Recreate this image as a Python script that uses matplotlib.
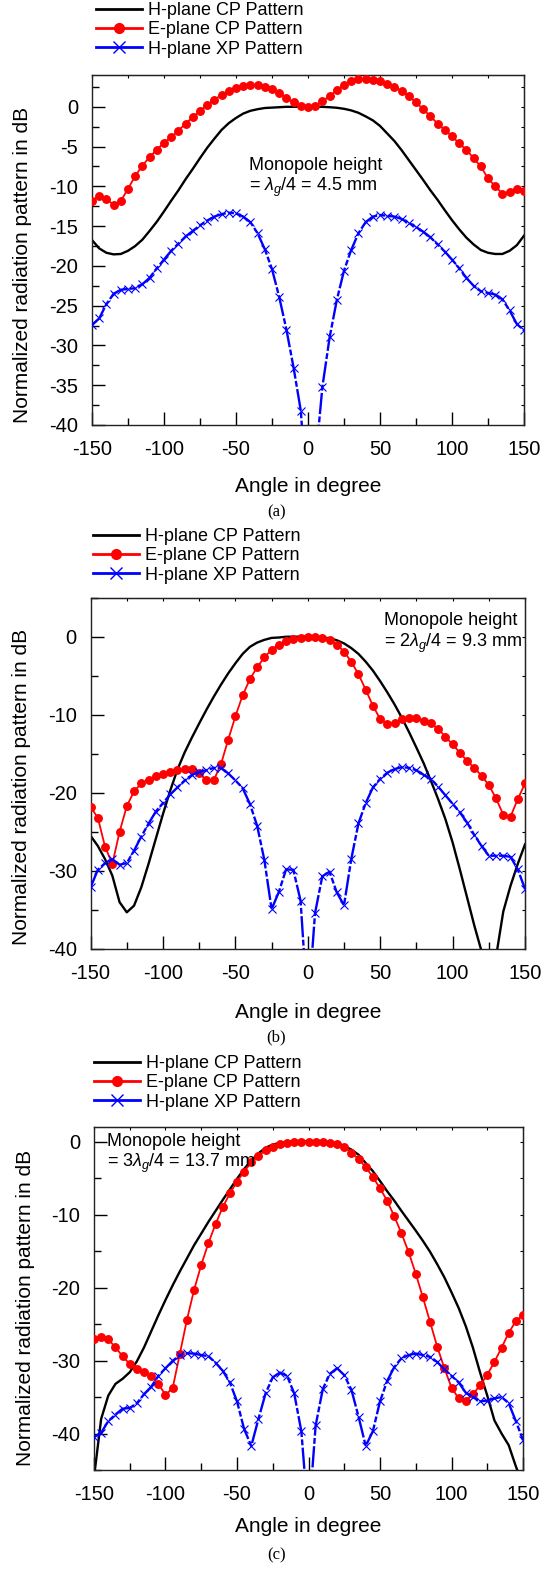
"""Normalized radiation patterns for three monopole heights (a), (b), (c)."""

import matplotlib

matplotlib.use("Agg")
import matplotlib.pyplot as plt
import numpy as np
from matplotlib.lines import Line2D
from matplotlib.ticker import MultipleLocator

plt.rcParams["font.family"] = ["Liberation Sans", "DejaVu Sans"]
plt.rcParams["mathtext.fontset"] = "custom"
plt.rcParams["mathtext.rm"] = "Liberation Sans"
plt.rcParams["mathtext.it"] = "Liberation Sans:italic"
plt.rcParams["axes.unicode_minus"] = False

ANGLES = np.arange(-150, 151, 5)

# ---- panel (a): lambda_g/4 ----
A_H_CP = [-16.75, -17.8, -18.35, -18.55, -18.5, -18.1, -17.5, -16.7, -15.6, -14.45,
          -13.15, -11.8, -10.5, -9.1, -7.8, -6.45, -5.15, -4.0, -2.9, -2.05,
          -1.4, -0.85, -0.5, -0.3, -0.15, -0.1, -0.05, 0.0, 0.0, 0.0,
          0.0, 0.0, 0.0, -0.05, -0.12, -0.25, -0.45, -0.75, -1.2, -1.7,
          -2.4, -3.35, -4.3, -5.45, -6.7, -7.95, -9.2, -10.5, -11.7, -13.0,
          -14.25, -15.4, -16.45, -17.3, -18.0, -18.35, -18.5, -18.5, -18.1, -17.4,
          -16.2]
A_E_CP = [-11.85, -11.2, -11.6, -12.3, -11.85, -10.3, -8.7, -7.4, -6.3, -5.4,
          -4.5, -3.8, -3.0, -2.1, -1.3, -0.5, 0.25, 0.9, 1.5, 2.0,
          2.4, 2.6, 2.76, 2.76, 2.5, 2.2, 1.7, 1.1, 0.55, 0.1,
          0.0, 0.15, 0.7, 1.35, 2.1, 2.76, 3.2, 3.5, 3.5, 3.4,
          3.2, 2.9, 2.5, 2.0, 1.35, 0.55, -0.3, -1.2, -2.1, -2.9,
          -3.7, -4.6, -5.4, -6.45, -7.5, -9.0, -10.0, -10.9, -10.7, -10.3,
          -10.55]
A_H_XP = [-27.4, -26.6, -24.8, -23.5, -23.0, -22.9, -22.8, -22.3, -21.5, -20.3,
          -19.2, -18.1, -17.2, -16.3, -15.6, -14.9, -14.3, -13.8, -13.5, -13.3,
          -13.4, -13.8, -14.5, -15.9, -17.9, -20.4, -23.9, -28.0, -32.8, -38.2,
          -51.0, -45.0, -35.2, -29.0, -24.3, -20.6, -18.0, -15.9, -14.5, -13.8,
          -13.6, -13.7, -13.8, -14.1, -14.6, -15.1, -15.7, -16.4, -17.3, -18.2,
          -19.2, -20.3, -21.5, -22.5, -23.2, -23.4, -23.6, -24.2, -25.6, -27.3,
          -28.1]

# ---- panel (b): 2 lambda_g/4 ----
B_H_CP = [-25.5, -26.8, -28.5, -30.6, -34.0, -35.3, -34.45, -32.1, -29.1, -25.9,
          -22.7, -19.7, -17.0, -14.8, -12.9, -11.1, -9.35, -7.7, -6.15, -4.7,
          -3.4, -2.2, -1.3, -0.75, -0.4, -0.15, -0.1, 0.0, 0.0, 0.0,
          0.0, 0.0, -0.1, -0.2, -0.45, -0.85, -1.45, -2.2, -3.2, -4.35,
          -5.7, -7.15, -8.7, -10.4, -12.25, -14.2, -16.2, -18.45, -20.8, -23.35,
          -26.35, -29.8, -33.4, -37.0, -40.3, -46.0, -41.0, -35.2, -31.9, -29.1,
          -26.6]
B_E_CP = [-21.8, -23.2, -26.9, -29.1, -25.0, -21.7, -19.8, -18.8, -18.3, -17.9,
          -17.6, -17.3, -17.1, -16.95, -17.0, -17.5, -18.4, -18.4, -16.35, -13.2,
          -10.2, -7.5, -5.45, -3.9, -2.65, -1.65, -1.0, -0.55, -0.25, -0.1,
          0.0, 0.0, -0.1, -0.45, -1.0, -1.9, -3.2, -4.8, -6.8, -8.85,
          -10.55, -11.2, -11.0, -10.55, -10.4, -10.45, -10.75, -11.1, -11.8, -12.8,
          -13.8, -14.85, -15.9, -16.8, -17.8, -19.0, -20.7, -22.8, -23.05, -20.8,
          -18.8]
B_H_XP = [-32.1, -29.85, -29.0, -28.5, -29.2, -29.0, -27.4, -25.6, -23.95, -22.4,
          -21.3, -20.2, -19.3, -18.4, -17.7, -17.3, -17.1, -16.8, -16.8, -17.5,
          -18.4, -19.4, -21.4, -24.2, -28.6, -34.9, -32.7, -29.8, -29.85, -33.8,
          -48.0, -35.4, -30.7, -30.1, -32.75, -34.4, -28.5, -23.9, -21.3, -19.3,
          -18.2, -17.4, -16.95, -16.7, -16.8, -17.1, -17.7, -18.2, -19.2, -20.3,
          -21.4, -22.5, -23.8, -25.4, -26.8, -28.05, -28.05, -28.05, -28.2, -29.8,
          -32.3]

# ---- panel (c): 3 lambda_g/4 ----
C_H_CP = [-46.0, -38.0, -34.8, -33.2, -32.5, -31.6, -30.1, -28.2, -26.0, -23.8,
          -21.7, -19.7, -17.8, -16.0, -14.2, -12.6, -11.0, -9.5, -8.0, -6.55,
          -5.1, -3.75, -2.6, -1.6, -0.85, -0.4, -0.2, -0.05, 0.0, 0.0,
          0.0, 0.0, 0.0, -0.1, -0.25, -0.6, -1.1, -1.8, -2.95, -4.05,
          -5.4, -6.8, -8.1, -9.5, -10.85, -12.2, -13.6, -15.1, -16.8, -18.6,
          -20.65, -22.8, -25.3, -28.25, -31.65, -34.8, -38.2, -40.0, -41.6, -44.5,
          -47.0]
C_E_CP = [-27.1, -26.8, -27.1, -28.2, -29.4, -30.5, -31.1, -31.6, -32.1, -33.2,
          -34.7, -33.8, -29.1, -24.4, -20.3, -16.9, -13.9, -11.3, -9.0, -7.1,
          -5.5, -4.1, -2.85, -1.95, -1.2, -0.7, -0.35, -0.2, -0.1, -0.05,
          0.0, 0.0, -0.05, -0.15, -0.3, -0.75, -1.5, -2.4, -3.5, -4.85,
          -6.4, -8.1, -10.25, -12.55, -15.15, -18.1, -21.35, -24.7, -28.1, -31.05,
          -33.7, -35.2, -35.5, -34.6, -33.4, -31.95, -30.2, -28.25, -26.2, -24.6,
          -23.7]
C_H_XP = [-40.5, -39.9, -38.3, -37.4, -36.6, -36.5, -35.85, -34.6, -33.6, -32.1,
          -31.05, -30.05, -29.25, -29.0, -29.05, -29.25, -29.4, -30.3, -31.4, -33.0,
          -35.6, -39.4, -41.7, -38.0, -34.5, -32.3, -31.65, -32.1, -34.5, -39.7,
          -52.0, -38.9, -33.9, -31.8, -31.05, -32.0, -34.0, -37.7, -41.7, -39.7,
          -35.6, -32.8, -30.9, -29.7, -29.25, -29.05, -29.25, -29.5, -30.2, -31.2,
          -32.1, -33.0, -34.4, -35.0, -35.6, -35.5, -35.2, -35.0, -35.85, -38.3,
          -40.9]

LEGEND_LABELS = ["H-plane CP Pattern", "E-plane CP Pattern", "H-plane XP Pattern"]

FIG_W, FIG_H = 551, 1572
XP_DASH = (0, (9, 1.0, 2.5, 1.0))


def px(x, y):
    """Pixel (from top-left) to figure fraction."""
    return x / FIG_W, 1 - y / FIG_H


def draw_panel(fig, box, h_cp, e_cp, h_xp, ylim, ymajor, yminor, right_step,
               legend_top, note_xy, note_lines, ylabel_xy, xlabel_y, tag, tag_y):
    left, top, right, bottom = box
    x0, y0 = px(left, bottom)
    ax = fig.add_axes([x0, y0, (right - left) / FIG_W, (bottom - top) / FIG_H])

    ax.plot(ANGLES, h_cp, color="black", lw=1.7, zorder=2)
    ax.plot(ANGLES, e_cp, color="red", lw=1.3, marker="o", ms=5.4, zorder=3)
    ax.plot(ANGLES, h_xp, color="blue", lw=1.7, linestyle=XP_DASH,
            marker="x", ms=6.0, mew=0.8, zorder=4)

    ax.set_xlim(-150, 150)
    ax.set_ylim(*ylim)
    ax.xaxis.set_major_locator(MultipleLocator(50))
    ax.xaxis.set_minor_locator(MultipleLocator(25))
    ax.yaxis.set_major_locator(MultipleLocator(ymajor))
    ax.yaxis.set_minor_locator(MultipleLocator(yminor))
    ax.tick_params(which="both", direction="in", top=False, right=False,
                   labelsize=14.5, width=1.0)
    ax.tick_params(which="major", length=9.5)
    ax.tick_params(which="minor", length=4.8)
    ax.tick_params(axis="x", pad=11)
    ax.tick_params(axis="y", pad=10)
    for sp in ax.spines.values():
        sp.set_linewidth(1.0)
        sp.set_color("#222222")

    # short ticks on the top and right frame
    sec_x = ax.secondary_xaxis("top")
    sec_x.set_xticks(np.arange(-150, 151, 25))
    sec_x.tick_params(direction="in", length=2.0, labeltop=False)
    sec_y = ax.secondary_yaxis("right")
    sec_y.yaxis.set_major_locator(MultipleLocator(right_step))
    sec_y.tick_params(direction="in", length=2.0, labelright=False)

    ax.set_xlabel("Angle in degree", fontsize=15)
    ax.set_ylabel("Normalized radiation pattern in dB", fontsize=15)
    ax.xaxis.label.set_va("center")
    ax.yaxis.label.set_va("center")
    w = right - left
    h = bottom - top
    ax.xaxis.set_label_coords(0.5, (bottom - xlabel_y) / h)
    ax.yaxis.set_label_coords((ylabel_xy[0] - left) / w, (bottom - ylabel_xy[1]) / h)

    nx, ny1, ny2 = note_xy
    ax.text((nx - left) / w, (bottom - ny1) / h, note_lines[0], transform=ax.transAxes,
            fontsize=13, ha="left", va="center")
    ax.text((nx - left) / w, (bottom - ny2) / h, note_lines[1], transform=ax.transAxes,
            fontsize=13, ha="left", va="center")

    handles = [
        Line2D([], [], color="black", lw=2.0),
        Line2D([], [], color="red", lw=2.0, marker="o", ms=7),
        Line2D([], [], color="blue", lw=2.0, marker="x", ms=8, mew=1.0),
    ]
    fig.legend(handles, LEGEND_LABELS, loc="upper left",
               bbox_to_anchor=px(legend_top[0], legend_top[1]),
               frameon=False, fontsize=13, borderpad=0, borderaxespad=0,
               handlelength=2.55, handletextpad=0.33, labelspacing=0.13,
               numpoints=1)

    fig.text(*px(276.5, tag_y), tag, family="Liberation Serif", fontsize=12,
             ha="center", va="center")
    return ax


def main():
    fig = plt.figure(figsize=(FIG_W / 100, FIG_H / 100), dpi=100)

    draw_panel(fig, (92, 75, 524, 425), A_H_CP, A_E_CP, A_H_XP,
               ylim=(-40, 4), ymajor=5, yminor=2.5, right_step=2.5,
               legend_top=(95.7, 2.0),
               note_xy=(249, 166, 187),
               note_lines=["Monopole height", r"= $\mathit{\lambda_g/4}$ = 4.5 mm"],
               ylabel_xy=(23, 265), xlabel_y=487, tag="(a)", tag_y=512)

    draw_panel(fig, (90.6, 597.7, 525, 949), B_H_CP, B_E_CP, B_H_XP,
               ylim=(-40, 5), ymajor=10, yminor=5, right_step=5,
               legend_top=(93, 528),
               note_xy=(383.5, 620, 643),
               note_lines=["Monopole height", r"= $\mathit{2\lambda_g/4}$ = 9.3 mm"],
               ylabel_xy=(22, 787), xlabel_y=1012, tag="(b)", tag_y=1037)

    draw_panel(fig, (94, 1127, 523, 1470), C_H_CP, C_E_CP, C_H_XP,
               ylim=(-45, 2), ymajor=10, yminor=5, right_step=5,
               legend_top=(94, 1055),
               note_xy=(106.7, 1141.7, 1163.5),
               note_lines=["Monopole height", r"= $\mathit{3\lambda_g/4}$ = 13.7 mm"],
               ylabel_xy=(26, 1308), xlabel_y=1527, tag="(c)", tag_y=1555)

    fig.savefig("out.png", dpi=100)
    plt.close("all")


if __name__ == "__main__":
    main()
